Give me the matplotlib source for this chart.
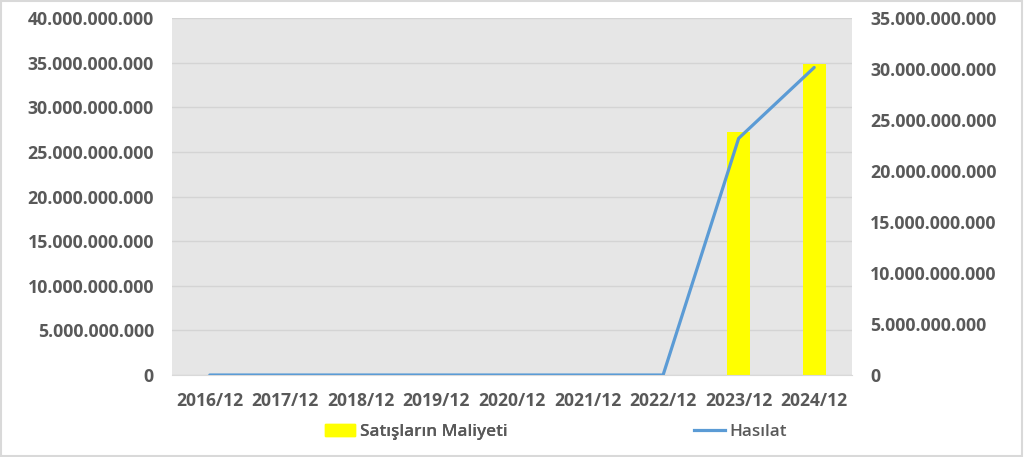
import matplotlib
matplotlib.use("Agg")
import matplotlib.pyplot as plt
from matplotlib.ticker import FuncFormatter, MultipleLocator
from matplotlib.patches import Rectangle
from matplotlib.lines import Line2D
import numpy as np

categories = ["2016/12", "2017/12", "2018/12", "2019/12", "2020/12",
              "2021/12", "2022/12", "2023/12", "2024/12"]
satis_maliyeti = [0, 0, 0, 0, 0, 0, 0, 27.2e9, 34.85e9]
hasilat = [0, 0, 0, 0, 0, 0, 0, 23.2e9, 30.15e9]

plt.rcParams['font.family'] = ['Open Sans', 'DejaVu Sans']
FS = 12.3
FT = 12.8
TXT = "#595959"

fig = plt.figure(figsize=(10.24, 4.57), dpi=100)
fig.patch.set_facecolor("white")
ax = fig.add_axes([0.168, 0.1794, 0.664, 0.7812])
ax.set_facecolor("#e6e6e6")

x = np.arange(len(categories))
ax.bar(x, satis_maliyeti, width=0.3, color="#ffff00", zorder=2)
ax.set_xlim(-0.5, len(categories) - 0.5)
ax.set_ylim(0, 40e9)
ax.yaxis.set_major_locator(MultipleLocator(5e9))

def fmt(v, pos):
    return f"{int(round(v)):,}".replace(",", ".")

ax.yaxis.set_major_formatter(FuncFormatter(fmt))
ax.grid(axis="y", color="#d4d4d4", linewidth=1.0, zorder=0)
ax.set_axisbelow(True)

ax2 = ax.twinx()
ax2.plot(x, hasilat, color="#5b9bd5", linewidth=2.3, zorder=3, solid_capstyle="round")
ax2.set_ylim(0, 35e9)
ax2.yaxis.set_major_locator(MultipleLocator(5e9))
ax2.yaxis.set_major_formatter(FuncFormatter(fmt))

for a in (ax, ax2):
    for s in a.spines.values():
        s.set_visible(False)
    a.tick_params(length=0, labelsize=FT, labelcolor=TXT)
ax.spines["bottom"].set_visible(True)
ax.spines["bottom"].set_color("#d9d9d9")
ax.set_xticks(x)
ax.set_xticklabels(categories)
ax.tick_params(axis="x", pad=12, labelsize=FS + 0.3)
ax.tick_params(axis="y", pad=13)
ax2.tick_params(axis="y", pad=13)
for lab in ax.get_xticklabels() + ax.get_yticklabels() + ax2.get_yticklabels():
    lab.set_fontweight("bold")

h1 = Rectangle((0, 0), 1, 1, color="#ffff00")
h2 = Line2D([0], [0], color="#5b9bd5", linewidth=2.3)
common = dict(frameon=False, prop={"size": FS, "weight": "semibold"},
              handlelength=1.8, handletextpad=0.25, labelcolor=TXT, borderpad=0,
              borderaxespad=0)
leg1 = fig.legend([h1], ["Satışların Maliyeti"], loc="center left",
                  bbox_to_anchor=(0.317, 0.055), **common)
leg2 = fig.legend([h2], ["Hasılat"], loc="center left",
                  bbox_to_anchor=(0.678, 0.055), **common)
fig.add_artist(leg1)

border = Rectangle((0.001, 0.002), 0.997, 0.995, transform=fig.transFigure,
                   fill=False, edgecolor="#d9d9d9", linewidth=1.5)
fig.add_artist(border)

fig.savefig("out.png", dpi=100, facecolor="white")
